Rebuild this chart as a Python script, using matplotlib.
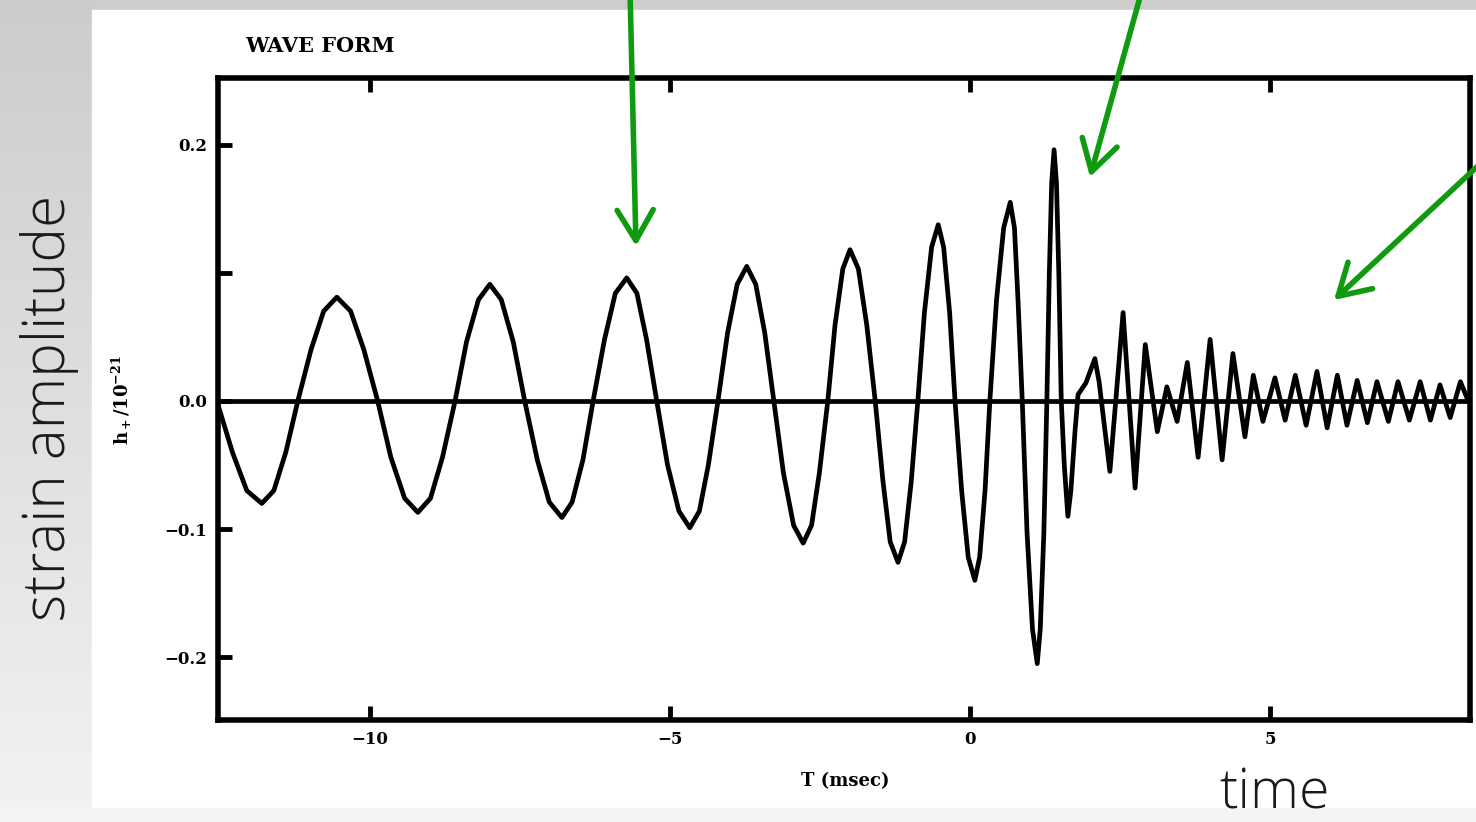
import matplotlib.pyplot as plt
import numpy as np
from matplotlib.patches import Rectangle

# waveform: time in msec, strain h+ in units of 1e-21
t = [-12.53, -12.29, -12.05, -11.80, -11.60, -11.40, -11.20,
     -10.98, -10.77, -10.55, -10.32, -10.10, -9.87,
     -9.65, -9.42, -9.20, -8.99, -8.79, -8.58,
     -8.39, -8.19, -8.00, -7.81, -7.61, -7.42,
     -7.21, -7.01, -6.80, -6.63, -6.45, -6.28,
     -6.09, -5.91, -5.72, -5.55, -5.39, -5.22,
     -5.04, -4.85, -4.67, -4.51, -4.36, -4.20,
     -4.04, -3.88, -3.72, -3.57, -3.42, -3.27,
     -3.11, -2.94, -2.78, -2.64, -2.51, -2.37,
     -2.25, -2.12, -2.00, -1.86, -1.72, -1.58,
     -1.45, -1.33, -1.20, -1.09, -0.98, -0.87,
     -0.76, -0.64, -0.53, -0.44, -0.34, -0.25,
     -0.14, -0.03, 0.08, 0.16, 0.25, 0.33,
     0.44, 0.56, 0.67, 0.74, 0.80, 0.87,
     0.95, 1.04, 1.12, 1.17, 1.23, 1.28,
     1.32, 1.36, 1.40, 1.44, 1.48, 1.52,
     1.57, 1.63, 1.68, 1.75, 1.80, 1.93, 2.08, 2.15, 2.33,
     2.55, 2.75, 2.92, 3.12, 3.28, 3.45, 3.62, 3.80, 4.00, 4.20,
     4.38, 4.58, 4.72, 4.88, 5.08, 5.25, 5.42, 5.60, 5.78, 5.95,
     6.12, 6.28, 6.45, 6.62, 6.78, 6.97, 7.13, 7.32, 7.50, 7.67,
     7.83, 8.00, 8.17, 8.30]
h = [-0.003, -0.040, -0.070, -0.080, -0.070, -0.040, 0.0,
     0.040, 0.070, 0.081, 0.070, 0.040, 0.0,
     -0.044, -0.076, -0.087, -0.076, -0.044, 0.0,
     0.046, 0.079, 0.091, 0.079, 0.046, 0.0,
     -0.046, -0.079, -0.091, -0.079, -0.046, 0.0,
     0.048, 0.084, 0.096, 0.084, 0.048, 0.0,
     -0.050, -0.086, -0.099, -0.086, -0.050, 0.0,
     0.053, 0.091, 0.105, 0.091, 0.053, 0.0,
     -0.056, -0.097, -0.111, -0.097, -0.056, 0.0,
     0.059, 0.103, 0.118, 0.103, 0.059, 0.0,
     -0.063, -0.110, -0.126, -0.110, -0.063, 0.0,
     0.069, 0.120, 0.1375, 0.120, 0.069, 0.0,
     -0.070, -0.122, -0.140, -0.122, -0.070, 0.0,
     0.078, 0.135, 0.155, 0.135, 0.078, 0.0,
     -0.103, -0.178, -0.205, -0.178, -0.103, 0.0,
     0.098, 0.170, 0.196, 0.170, 0.098, 0.0,
     -0.050, -0.090, -0.070, -0.023, 0.005, 0.014, 0.033, 0.015, -0.055,
     0.069, -0.068, 0.044, -0.024, 0.011, -0.016, 0.030, -0.044, 0.048, -0.046,
     0.037, -0.028, 0.020, -0.016, 0.018, -0.015, 0.020, -0.019, 0.023, -0.021,
     0.020, -0.019, 0.016, -0.017, 0.015, -0.016, 0.015, -0.015, 0.015, -0.015,
     0.0125, -0.013, 0.015, 0.0]

x_ticks = [-10, -5, 0, 5]
x_labels = ["\u221210", "\u22125", "0", "5"]
y_ticks = [-0.2, -0.1, 0.0, 0.1, 0.2]
y_labels = ["\u22120.2", "\u22120.1", "0.0", "", "0.2"]

W, H = 1476, 822
green = "#0f9a0f"
plt.rcParams["mathtext.fontset"] = "dejavuserif"

fig = plt.figure(figsize=(W / 100, H / 100), dpi=100)

# slide background, in pixel coords
bg = fig.add_axes([0, 0, 1, 1], zorder=-10)
bg.set_xlim(0, W)
bg.set_ylim(H, 0)
bg.axis("off")
grad = np.linspace(0.80, 0.95, 200)[:, None, None] * np.ones((1, 1, 3))
bg.imshow(grad, extent=[0, 92, H, 0], aspect="auto")
bg.add_patch(Rectangle((92, 0), W - 92, 10, color="#cdcdcd"))
bg.add_patch(Rectangle((92, 10), W - 92, 798, color="white"))
bg.add_patch(Rectangle((0, 808), W, 14, color="#f4f4f4"))

# the waveform panel
ax = fig.add_axes([218 / W, 1 - 720 / H, (1470 - 218) / W, (720 - 78) / H])
ax.set_facecolor("white")
ax.plot(t, h, color="black", lw=3.4)
ax.axhline(0, color="black", lw=3.4)
ax.set_xlim(-12.53, 8.33)
ax.set_ylim(-0.249, 0.252)
ax.set_xticks(x_ticks)
ax.set_xticklabels(x_labels)
ax.set_yticks(y_ticks)
ax.set_yticklabels(y_labels)
ax.tick_params(direction="in", length=10, width=3.5, top=True, right=False,
               labelsize=12, pad=8)
for lab in ax.get_xticklabels() + ax.get_yticklabels():
    lab.set_family("DejaVu Serif")
    lab.set_weight("bold")
for s in ax.spines.values():
    s.set_linewidth(4)

# overlay for slide text and arrows
ov = fig.add_axes([0, 0, 1, 1], zorder=10)
ov.set_xlim(0, W)
ov.set_ylim(H, 0)
ov.axis("off")
ov.patch.set_alpha(0)

ov.text(245, 46, "WAVE FORM", ha="left", va="center", fontsize=15,
        family="DejaVu Serif", weight="bold")
ov.text(845, 781, "T (msec)", ha="center", va="center", fontsize=13,
        family="DejaVu Serif", weight="bold")
ov.text(122, 400, r"$\mathbf{h_+/10^{-21}}$", ha="center", va="center",
        rotation=90, fontsize=13)
ov.text(50, 408, "strain amplitude", ha="center", va="center", rotation=90,
        fontsize=42, family="Open Sans", weight="light", color="#1a1a1a")
ov.text(1275, 821, "time", ha="center", va="bottom", fontsize=40,
        family="Open Sans", weight="light", color="#1a1a1a")

arrows = [((630, -10), (636, 246)), ((1142, -10), (1090, 177)),
          ((1495, 150), (1334, 300))]
for tail, tip in arrows:
    ov.annotate("", xy=tip, xytext=tail, annotation_clip=False,
                arrowprops=dict(arrowstyle="->,head_length=1.1,head_width=0.65",
                                mutation_scale=20, lw=4, color=green,
                                capstyle="round", joinstyle="round",
                                shrinkA=0, shrinkB=0))

fig.savefig("out.png", dpi=100)
